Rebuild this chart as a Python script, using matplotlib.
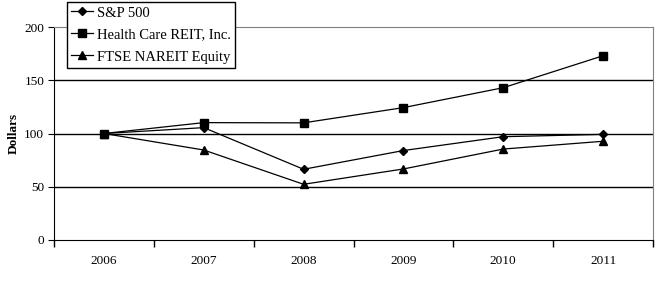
import numpy as np
import matplotlib.pyplot as plt

# Datos del grafico
years = ["2006", "2007", "2008", "2009", "2010", "2011"]
sp500 = [100, 105.5, 66.4, 84.0, 97.0, 99.2]
hcn = [100, 110.2, 110.0, 124.3, 143.0, 173.0]
ftse = [100, 84.5, 52.3, 66.7, 85.4, 92.7]

plt.rcParams['font.family'] = ['Liberation Serif', 'DejaVu Serif']

fig = plt.figure(figsize=(6.66, 2.86), dpi=100)
ax = fig.add_axes([54/666, 1-240/286, (653-54)/666, (240-27)/286])

x = np.arange(len(years))
ax.plot(x, sp500, color="#000000", lw=0.9, marker='D', ms=4, label="S&P 500")
ax.plot(x, hcn, color="#000000", lw=0.9, marker='s', ms=5.5, label="Health Care REIT, Inc.")
ax.plot(x, ftse, color="#000000", lw=0.9, marker='^', ms=6, label="FTSE NAREIT Equity")

# Lineas horizontales de la cuadricula
for v in [50, 100, 150]:
    ax.axhline(v, color="#000000", lw=1, zorder=0)

ax.set_xlim(-0.5, len(years) - 0.5)
ax.set_ylim(0, 200)
ax.set_yticks([0, 50, 100, 150, 200])
ax.set_xticks(x)
ax.set_xticklabels(years)
ax.set_xticks(np.arange(-0.5, len(years)), minor=True)
ax.tick_params(axis='x', which='major', length=0, pad=11, labelsize=9.5)
ax.tick_params(axis='x', which='minor', length=5, direction='out', width=1)
ax.tick_params(axis='y', length=4, direction='out', labelsize=9.5, pad=3)

ax.spines['top'].set_color("#808080")
ax.spines['right'].set_color("#808080")
ax.spines['left'].set_color("#000000")
ax.spines['bottom'].set_color("#000000")

ax.set_ylabel("Dollars", fontsize=9.5, fontweight='bold', labelpad=3)

leg = ax.legend(loc='upper left', bbox_to_anchor=(13/599, 1 + 25/213), fontsize=10.5,
                frameon=True, fancybox=False, edgecolor="#000000", framealpha=1,
                borderpad=0.3, labelspacing=0.6, handlelength=1.5, handletextpad=0.25,
                borderaxespad=0)
leg.get_frame().set_linewidth(1)

plt.savefig("out.png", dpi=100)
